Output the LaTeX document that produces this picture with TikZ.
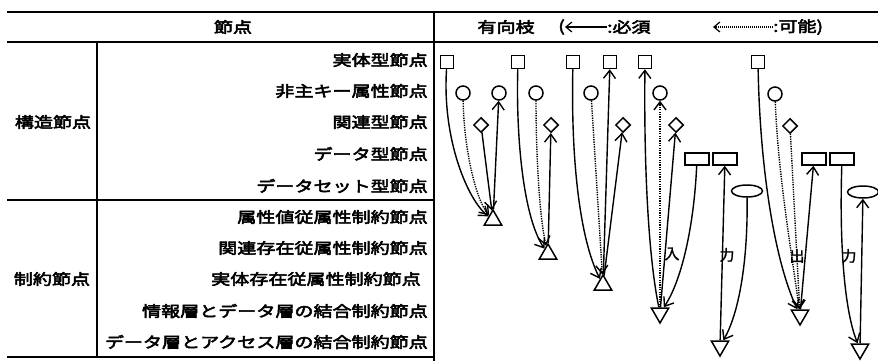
\documentclass[tikz,border=0pt]{standalone}
\usepackage{fontspec}
\newfontfamily\jp[FakeStretch=1.27,FakeBold=3.5]{Noto Sans CJK JP}
\newfontfamily\jpr[FakeBold=1.5]{Noto Sans CJK JP}
\usetikzlibrary{arrows.meta,shapes.geometric}
\begin{document}
\begin{tikzpicture}[x=1pt,y=-1pt,
  tline/.style={line width=1.6pt},
  lbl/.style={font=\jp\fontsize{15}{15}\selectfont, inner sep=0pt, anchor=east},
  grp/.style={font=\jp\fontsize{15}{15}\selectfont, inner sep=0pt},
  hdr/.style={font=\jp\fontsize{15}{15}\selectfont, inner sep=0pt},
  io/.style={font=\jpr\fontsize{15}{15}\selectfont, inner sep=0pt},
  sq/.style={draw, line width=1.5pt, minimum width=13pt, minimum height=13pt, inner sep=0pt},
  ci/.style={draw, circle, line width=1.5pt, minimum size=14pt, inner sep=0pt},
  di/.style={draw, diamond, line width=1.5pt, minimum size=15pt, inner sep=0pt},
  re/.style={draw, line width=1.5pt, minimum width=24pt, minimum height=12pt, inner sep=0pt},
  el/.style={draw, ellipse, line width=1.5pt, minimum width=31pt, minimum height=12pt, inner sep=0pt},
  tu/.style={draw, regular polygon, regular polygon sides=3, line width=1.5pt, minimum size=20pt, inner sep=0pt},
  td/.style={tu, shape border rotate=180},
  must/.style={line width=1.4pt, -{Straight Barb[length=8pt,width=12pt,line width=1.4pt]}},
  may/.style={must, dash pattern=on 1.3pt off 1.1pt},
  harrow/.style={line width=1.2pt, -{Straight Barb[length=6pt,width=10pt,line width=1.2pt]}}
]
\path[use as bounding box] (0,0) rectangle (878,361);

% table lines
\draw[tline] (7,12) -- (878,12);
\draw[tline] (7,42) -- (878,42);
\draw[tline] (434,12) -- (434,361);
\draw[tline] (97,42) -- (97,357);
\draw[tline] (7,200) -- (434,200);
\draw[tline] (7,357) -- (434,357);

% header
\node[hdr] (hnode) at (233,27) {節点};
\node[hdr] (hedge) at (506,27) {有向枝};
\node[hdr, anchor=east] (lp) at (565,27) {(};
\node[hdr, anchor=west] (hmust) at (607,27) {:必須};
\node[hdr, anchor=east] (hsp) at (713,27) {};
\node[hdr, anchor=west] (hmay) at (773,27) {:可能)};
\draw[harrow] (hmust.west) -- (lp.east);
\draw[harrow, dash pattern=on 1pt off 1pt] (hmay.west) -- (hsp.east);

% group labels
\node[grp] (g1) at (53,122) {構造節点};
\node[grp] (g2) at (52,279) {制約節点};

% row labels
\node[lbl] (l1) at (428,60) {実体型節点};
\node[lbl] (l2) at (428,91) {非主キー属性節点};
\node[lbl] (l3) at (428,122) {関連型節点};
\node[lbl] (l4) at (428,154) {データ型節点};
\node[lbl] (l5) at (428,186) {データセット型節点};
\node[lbl] (l6) at (428,217) {属性値従属性制約節点};
\node[lbl] (l7) at (428,248) {関連存在従属性制約節点};
\node[lbl] (l8) at (421,279) {実体存在従属性制約節点};
\node[lbl] (l9) at (428,311) {情報層とデータ層の結合制約節点};
\node[lbl] (l10) at (428,342) {データ層とアクセス層の結合制約節点};

% structure nodes
\node[sq] (s1) at (447,62) {};
\node[sq] (s2) at (518,62) {};
\node[sq] (s3) at (573,62) {};
\node[sq] (s4) at (610,62) {};
\node[sq] (s5) at (645,62) {};
\node[sq] (s6) at (758,62) {};
\node[ci] (c1) at (463,93) {};
\node[ci] (c2) at (499,93) {};
\node[ci] (c3) at (536,93) {};
\node[ci] (c4) at (591,93) {};
\node[ci] (c5) at (660,93) {};
\node[ci] (c6) at (775,94) {};
\node[di] (d1) at (481,125) {};
\node[di] (d2) at (551,125) {};
\node[di] (d3) at (623,125) {};
\node[di] (d4) at (676,125) {};
\node[di] (d5) at (790,126) {};
\node[re] (r1) at (697,159) {};
\node[re] (r2) at (725,159) {};
\node[re] (r3) at (814,159) {};
\node[re] (r4) at (842,159) {};
\node[el] (e1) at (747,191) {};
\node[el] (e2) at (863,192) {};

% constraint nodes
\node[tu] (t1) at (493,220) {};
\node[tu] (t2) at (548,254) {};
\node[tu] (t3) at (603,285) {};
\node[td] (t4) at (660,313) {};
\node[td] (t5) at (720,346) {};
\node[td] (t6) at (800,315) {};
\node[td] (t7) at (860,349) {};

% labels
\node[io] (in1) at (672,254) {入};
\node[io] (in2) at (727,255) {力};
\node[io] (out1) at (797,256) {出};
\node[io] (out2) at (849,256) {力};

% group A
\draw[must] (s1) .. controls (442,140) and (468,200) .. (t1);
\draw[may] (c1) .. controls (464,150) and (476,200) .. (t1);
\draw[must] (d1) -- (t1);
\draw[must] (t1) -- (c2);
% group B
\draw[must] (s2) .. controls (516,130) and (522,215) .. (t2);
\draw[may] (c3) .. controls (536,150) and (539,215) .. (t2);
\draw[must] (t2) -- (d2);
% group C
\draw[must] (s3) .. controls (571,150) and (578,235) .. (t3);
\draw[may] (c4) -- (t3);
\draw[must] (t3) -- (s4);
\draw[must] (t3) -- (d3);
% group D
\draw[must] (t4) .. controls (647,250) and (644,150) .. (s5);
\draw[may] (t4) -- (c5);
\draw[must] (t4) -- (d4);
\draw[must] (r1) .. controls (694,225) and (682,280) .. (t4);
% group E
\draw[must] (t5) -- (r2);
\draw[must] (e1) .. controls (748,265) and (738,315) .. (t5);
% group F
\draw[must] (s6) .. controls (760,170) and (775,262) .. (t6);
\draw[may] (c6) .. controls (778,175) and (792,255) .. (t6);
\draw[may] (d5) -- (t6);
\draw[must] (t6) -- (r3);
% group G
\draw[must] (r4) .. controls (839,255) and (846,315) .. (t7);
\draw[must] (t7) -- (e2);
\end{tikzpicture}
\end{document}
